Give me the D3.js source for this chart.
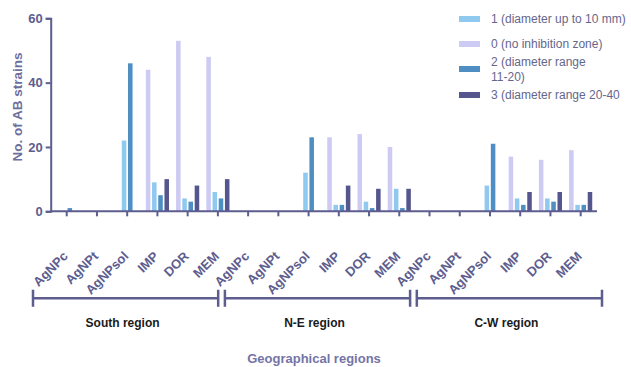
<!DOCTYPE html>
<html>
<head>
<meta charset="utf-8">
<script src="https://cdn.jsdelivr.net/npm/d3@7"></script>
<style>
  body { margin: 0; background: #fff; }
  svg { display: block; font-family: Arial, "Liberation Sans", sans-serif; }
</style>
</head>
<body>
<svg id="chart"></svg>
<script>
// chart data
const regions = ["South region", "N-E region", "C-W region"];
const agents = ["AgNPc", "AgNPt", "AgNPsol", "IMP", "DOR", "MEM"];
const seriesKeys = ["0", "1", "2", "3"]; // bar order inside a group
const legendOrder = ["1", "0", "2", "3"];
const legendLabels = {
  "1": ["1 (diameter up to 10 mm)"],
  "0": ["0 (no inhibition zone)"],
  "2": [" 2 (diameter range", "11-20)"],
  "3": ["3 (diameter range 20-40"]
};
// values per region, per agent: [zone0, zone1, zone2, zone3]
const southValues = [[0, 0, 1, 0], [0, 0, 0, 0], [0, 22, 46, 0], [44, 9, 5, 10], [53, 4, 3, 8], [48, 6, 4, 10]];
const neValues    = [[0, 0, 0, 0], [0, 0, 0, 0], [0, 12, 23, 0], [23, 2, 2, 8], [24, 3, 1, 7], [20, 7, 1, 7]];
const cwValues    = [[0, 0, 0, 0], [0, 0, 0, 0], [0, 8, 21, 0], [17, 4, 2, 6], [16, 4, 3, 6], [19, 2, 2, 6]];
const yTicks = [0, 20, 40, 60];

const colors = { "0": "#cdcaf3", "1": "#90c9f0", "2": "#4f8ec2", "3": "#56568e" };
const axisColor = "#5d5d8f";

const W = 631, H = 367;
const svg = d3.select("#chart").attr("width", W).attr("height", H);

// flatten categories
const allValues = [southValues, neValues, cwValues];
const cats = [];
regions.forEach((r, ri) => agents.forEach((a, ai) => {
  cats.push({ key: r + "|" + a, region: r, agent: a, values: allValues[ri][ai] });
}));

const x = d3.scaleBand().domain(cats.map(d => d.key)).range([51.6, 595.8]).padding(0);
const xInner = d3.scaleBand().domain(seriesKeys).range([-12.4, 12.4]).paddingInner(0.27).paddingOuter(0.135);
const y = d3.scaleLinear().domain([0, 60]).range([211.3, 18.3]);

// bars
const groups = svg.append("g").selectAll("g")
  .data(cats)
  .join("g")
  .attr("transform", d => `translate(${x(d.key) + x.bandwidth() / 2},0)`);

groups.selectAll("rect")
  .data(d => seriesKeys.map((k, i) => ({ k, v: d.values[i] })))
  .join("rect")
  .attr("x", d => xInner(d.k))
  .attr("width", xInner.bandwidth())
  .attr("y", d => y(d.v))
  .attr("height", d => y(0) - y(d.v))
  .attr("fill", d => colors[d.k]);

// y axis
const yAxis = svg.append("g")
  .attr("transform", "translate(50.7,0)")
  .call(d3.axisLeft(y).tickValues(yTicks).tickSize(5).tickPadding(3));
yAxis.select(".domain").attr("stroke", axisColor).attr("stroke-width", 2);
yAxis.selectAll(".tick line").attr("stroke", axisColor).attr("stroke-width", 2);
yAxis.selectAll(".tick text")
  .attr("fill", axisColor).attr("font-size", 13).attr("font-weight", "bold")
  .attr("font-family", "Arial, 'Liberation Sans', sans-serif");

// x axis
const xAxis = svg.append("g")
  .attr("transform", `translate(0,${y(0)})`)
  .call(d3.axisBottom(x).tickSize(5).tickSizeOuter(0).tickFormat(""));
xAxis.select(".domain").attr("stroke", axisColor).attr("stroke-width", 2)
  .attr("d", `M50,0H597`);
xAxis.selectAll(".tick line").attr("stroke", axisColor).attr("stroke-width", 2);

// rotated category labels
svg.append("g").selectAll("text")
  .data(cats)
  .join("text")
  .attr("transform", d => `translate(${x(d.key) + x.bandwidth() / 2 + 2},257) rotate(-45)`)
  .attr("text-anchor", "end")
  .attr("fill", axisColor)
  .attr("font-size", 13)
  .attr("font-weight", "bold")
  .text(d => d.agent);

// region brackets
const rx = d3.scaleBand().domain(regions).range([33, 602]).paddingInner(0.035);
const bracketY = 298.3;
const br = svg.append("g").attr("stroke", axisColor).attr("stroke-width", 2.5).attr("fill", "none");
regions.forEach(r => {
  const x0 = rx(r), x1 = rx(r) + rx.bandwidth();
  br.append("path").attr("d", `M${x0},${bracketY}H${x1}M${x0},${bracketY - 8.5}V${bracketY + 8.5}M${x1},${bracketY - 8.5}V${bracketY + 8.5}`);
  svg.append("text")
    .attr("x", (x0 + x1) / 2 - 3)
    .attr("y", 327)
    .attr("text-anchor", "middle")
    .attr("font-size", 12)
    .attr("font-weight", "bold")
    .attr("fill", "#1a1a1a")
    .text(r);
});

// axis titles
svg.append("text")
  .attr("transform", "translate(22,107) rotate(-90)")
  .attr("text-anchor", "middle")
  .attr("font-size", 13.5)
  .attr("font-weight", "bold")
  .attr("fill", "#6e6e9e")
  .text("No. of AB strains");

svg.append("text")
  .attr("x", 314)
  .attr("y", 363)
  .attr("text-anchor", "middle")
  .attr("font-size", 13)
  .attr("font-weight", "bold")
  .attr("fill", "#7474a6")
  .text("Geographical regions");

// legend
const rowY = { "1": 19, "0": 44, "2": 62, "3": 95 };
const legend = svg.append("g");
legendOrder.forEach(k => {
  const lines = legendLabels[k];
  const swY = lines.length > 1 ? rowY[k] + 7 : rowY[k];
  legend.append("rect")
    .attr("x", 459).attr("y", swY - 3).attr("width", 21).attr("height", 6)
    .attr("fill", colors[k]);
  const t = legend.append("text")
    .attr("x", 491).attr("y", rowY[k] + 4)
    .attr("font-size", 12)
    .attr("fill", "#66668c");
  lines.forEach((ln, i) => {
    t.append("tspan").attr("x", 491).attr("dy", i === 0 ? 0 : 14.5).text(ln);
  });
});
</script>
</body>
</html>
